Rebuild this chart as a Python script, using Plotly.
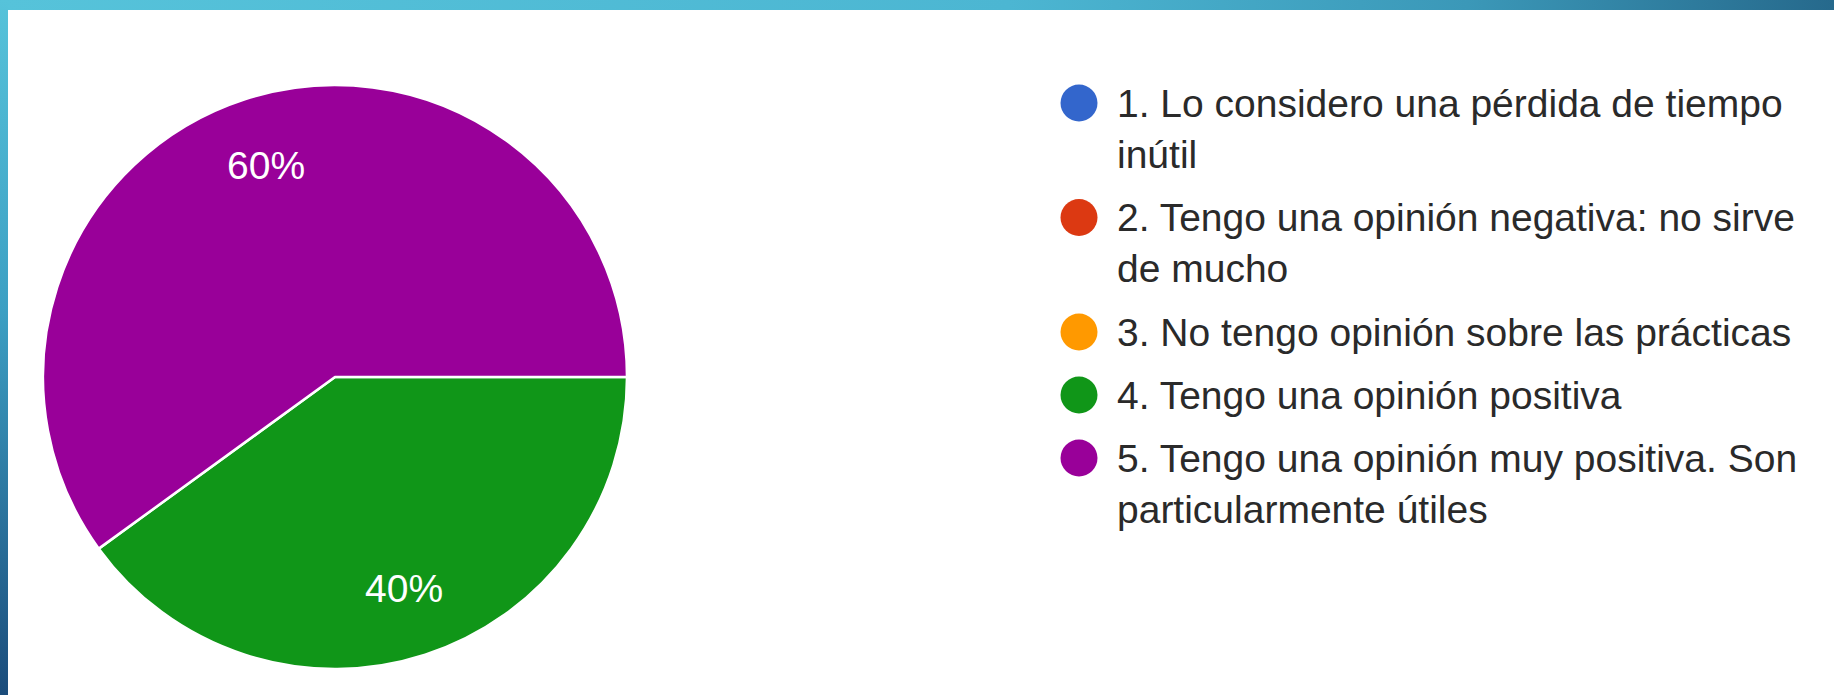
import base64
import math
import textwrap
import plotly.graph_objects as go

# ---- data ----
categories = [
    "1. Lo considero una pérdida de tiempo inútil",
    "2. Tengo una opinión negativa: no sirve de mucho",
    "3. No tengo opinión sobre las prácticas",
    "4. Tengo una opinión positiva",
    "5. Tengo una opinión muy positiva. Son particularmente útiles",
]
percentages = [0, 0, 0, 40, 60]
colors = ["#3366cc", "#dc3912", "#ff9900", "#109618", "#990099"]

# ---- layout constants (pixels) ----
W, H = 1834, 695
CX, CY, R = 335, 377, 292
FONT = "Liberation Sans, Arial, sans-serif"
FS = 39
LEG_MARK_X, LEG_TEXT_X = 1079, 1115
LEG_Y0, LINE_H, ITEM_GAP = 103, 51.5, 11.5

fig = go.Figure()

fig.add_trace(go.Pie(
    labels=categories,
    values=percentages,
    marker=dict(colors=colors, line=dict(color="white", width=2.5)),
    sort=False,
    direction="clockwise",
    rotation=90,
    textinfo="none",
    showlegend=False,
    domain=dict(x=[(CX - R) / W, (CX + R) / W],
                y=[(H - (CY + R)) / H, (H - (CY - R)) / H]),
))

annotations = []
# percentage labels placed along each slice's mid-angle
total = sum(percentages)
start = 90.0
for v in percentages:
    sweep = 360.0 * v / total
    if v > 0:
        mid = math.radians(start + sweep / 2)
        x = CX + 0.76 * R * math.sin(mid)
        y = CY - 0.76 * R * math.cos(mid)
        annotations.append(dict(
            x=x, y=y, xref="x2", yref="y2", text=f"{v}%", showarrow=False,
            font=dict(family=FONT, size=FS, color="white"),
            xanchor="center", yanchor="middle"))
    start += sweep

# custom legend
wrapped = [textwrap.wrap(c, 39) for c in categories]
leg_y = []
y = LEG_Y0
for lines in wrapped:
    leg_y.append(y)
    y += len(lines) * LINE_H + ITEM_GAP

fig.add_trace(go.Scatter(
    x=[LEG_MARK_X] * len(categories), y=leg_y, mode="markers",
    marker=dict(size=37, color=colors, line=dict(width=0)),
    xaxis="x2", yaxis="y2", showlegend=False, hoverinfo="skip",
))
for lines, yy in zip(wrapped, leg_y):
    annotations.append(dict(
        x=LEG_TEXT_X, y=yy + (len(lines) - 1) * LINE_H / 2,
        xref="x2", yref="y2", text="<br>".join(lines), showarrow=False,
        align="left", xanchor="left", yanchor="middle",
        font=dict(family=FONT, size=FS, color="#2a2a2a")))

# decorative frame (gradient bands at top and left)
svg = f'''<svg xmlns="http://www.w3.org/2000/svg" width="{W}" height="{H}" viewBox="0 0 {W} {H}" preserveAspectRatio="none">
<defs>
<linearGradient id="t" x1="0" y1="0" x2="1" y2="0">
<stop offset="0" stop-color="#56c3da"/><stop offset="0.55" stop-color="#4cb6d2"/><stop offset="0.8" stop-color="#3b98b8"/><stop offset="1" stop-color="#26698c"/></linearGradient>
<linearGradient id="l" x1="0" y1="0" x2="0" y2="1">
<stop offset="0" stop-color="#56c3da"/><stop offset="0.45" stop-color="#3c9fc3"/><stop offset="1" stop-color="#1b4c7b"/></linearGradient>
</defs>
<rect x="0" y="0" width="{W}" height="10" fill="url(#t)"/>
<rect x="0" y="0" width="8" height="{H}" fill="url(#l)"/>
</svg>'''
src = "data:image/svg+xml;base64," + base64.b64encode(svg.encode()).decode()

fig.update_layout(
    width=W, height=H,
    margin=dict(l=0, r=0, t=0, b=0),
    paper_bgcolor="white", plot_bgcolor="rgba(0,0,0,0)",
    xaxis2=dict(domain=[0, 1], range=[0, W], visible=False, fixedrange=True, anchor="y2"),
    yaxis2=dict(domain=[0, 1], range=[H, 0], visible=False, fixedrange=True, anchor="x2"),
    xaxis=dict(visible=False), yaxis=dict(visible=False),
    annotations=annotations,
    images=[dict(source=src, xref="paper", yref="paper", x=0, y=1, sizex=1, sizey=1,
                 sizing="stretch", xanchor="left", yanchor="top", layer="above")],
)

fig.write_html(
    "out.html",
    config={"displayModeBar": False},
    post_script="document.body.style.margin='0px';document.body.style.overflow='hidden';",
)
